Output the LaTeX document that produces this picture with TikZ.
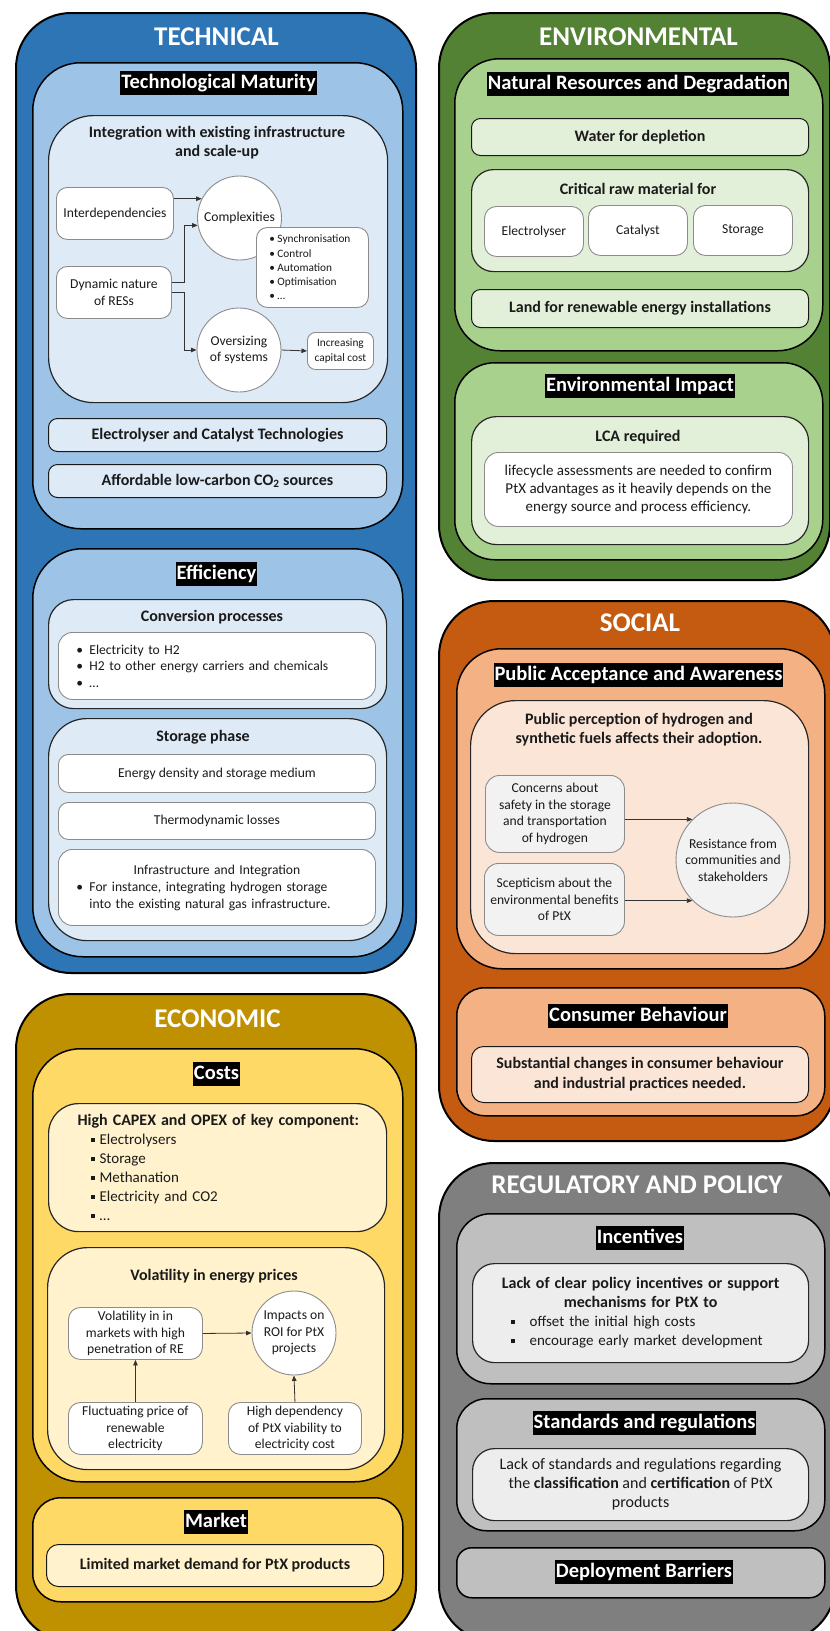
\documentclass[tikz,border=0pt]{standalone}
\usepackage{fontspec}
\setmainfont{Carlito}
\usetikzlibrary{arrows.meta}

% palette
\definecolor{tblue}{HTML}{2E75B6}
\definecolor{tpanel}{HTML}{9DC3E6}
\definecolor{tinner}{HTML}{DEEBF7}
\definecolor{egreen}{HTML}{548235}
\definecolor{epanel}{HTML}{A9D18E}
\definecolor{einner}{HTML}{E2F0D9}
\definecolor{sorange}{HTML}{C55A11}
\definecolor{spanel}{HTML}{F4B183}
\definecolor{sinner}{HTML}{FBE5D6}
\definecolor{sgray}{HTML}{F2F2F2}
\definecolor{ygold}{HTML}{BF9000}
\definecolor{ypanel}{HTML}{FFD966}
\definecolor{yinner}{HTML}{FFF2CC}
\definecolor{rgray}{HTML}{7F7F7F}
\definecolor{rpanel}{HTML}{BFBFBF}
\definecolor{rinner}{HTML}{EDEDED}
\definecolor{leafline}{HTML}{8C8C8C}
\definecolor{ink}{HTML}{1A1A1A}

% type sizes
\newcommand\regf{\fontsize{13.6}{16.5}\selectfont}
\newcommand\midf{\fontsize{15}{18}\selectfont}
\newcommand\bldf{\fontsize{16}{19}\selectfont\bfseries}
\newcommand\smf{\fontsize{11.3}{14.2}\selectfont}
\newcommand\bul[1]{\makebox[#1][l]{•}}
\newcommand\sqb[1]{\makebox[#1][l]{\rule[2.6pt]{4pt}{4pt}}}
% box from top-left (x1,y1) to bottom-right (x2,y2)
\newcommand\rbox[7]{\node[#2,anchor=north west,minimum width={(#5-#3)*1pt},minimum height={(#6-#4)*1pt}] (#1) at (#3,#4) {#7};}

\tikzset{
  obox/.style={draw=black,line width=2pt,rounded corners=55pt,inner sep=0pt},
  pbox/.style={draw=black,line width=1.5pt,rounded corners=#1,inner sep=0pt},
  pbox/.default=45pt,
  cbox/.style={draw=black!85,line width=1.2pt,rounded corners=#1,inner sep=0pt,text=ink},
  cbox/.default=25pt,
  bar/.style={draw=black!90,line width=1pt,rounded corners=9pt,font=\bldf,text=ink,align=center,inner sep=0pt},
  leaf/.style={draw=leafline,line width=0.9pt,fill=white,rounded corners=#1,font=\regf,text=ink,align=center,inner sep=1pt},
  leaf/.default=11pt,
  circ/.style={circle,draw=leafline,line width=0.9pt,fill=white,font=\regf,text=ink,align=center,inner sep=0pt},
  otitle/.style={text=white,font=\fontsize{27}{30}\selectfont\bfseries},
  ptitle/.style={fill=black,text=white,font=\fontsize{20.5}{24}\selectfont\bfseries,inner xsep=1pt,inner ysep=2pt,text height=15pt,text depth=4.5pt},
  stitle/.style={font=\bldf,text=ink,align=center},
  conn/.style={draw=black!80,line width=0.8pt,-{Triangle[length=5.5pt,width=4.5pt]}},
}

\begin{document}
\begin{tikzpicture}[x=1pt,y=-1pt]
\useasboundingbox (0,0) rectangle (830,1631);

% ================= TECHNICAL =================
\rbox{techO}{obox,fill=tblue}{15}{12}{415}{972}{}
\node[otitle] (techT) at (216.5,37) {TECHNICAL};
\rbox{tmP}{pbox=48pt,fill=tpanel}{32}{62}{402}{528}{}
\node[ptitle] (tmT) at (218.5,83) {Technological Maturity};
\rbox{intB}{cbox=45pt,fill=tinner}{48}{115}{387}{402}{}
\node[stitle] (intT) at (217,142.5) {Integration with existing infrastructure\\and scale-up};
\rbox{intd}{leaf}{56}{187}{173}{239}{Interdependencies}
\node[circ,minimum size=84pt] (cplx) at (239.5,218) {Complexities};
\rbox{clist}{leaf,font=\smf,align=left,text width=86pt}{256}{227}{368}{307}{\bul{8pt}Synchronisation\\\bul{8pt}Control\\\bul{8pt}Automation\\\bul{8pt}Optimisation\\\bul{8pt}…}
\rbox{dyn}{leaf}{56}{266}{171}{318}{Dynamic nature\\of RESs}
\node[circ,minimum size=84pt] (ovs) at (239,350) {Oversizing\\of systems};
\rbox{inc}{leaf=8pt,font=\smf}{307}{332}{373}{369}{Increasing\\capital cost}
\draw[conn] (intd.east |- cplx.153) -- (cplx.153);
\draw[conn] ([yshift=10pt]dyn.east) -- ++(12,0) |- (cplx.190);
\draw[conn] (dyn.east) -- ++(12,0) |- (ovs.west);
\draw[conn] (ovs.east) -- (inc.west);
\rbox{ect}{bar,fill=tinner}{48}{418}{386}{451}{Electrolyser and Catalyst Technologies}
\rbox{aff}{bar,fill=tinner}{48}{464}{386}{497}{Affordable low-carbon CO\textsubscript{2} sources}

\rbox{effP}{pbox=50pt,fill=tpanel}{32}{548}{402}{956}{}
\node[ptitle] (effT) at (216.5,574) {Efficiency};
\rbox{conv}{cbox=25pt,fill=tinner}{48}{599}{386}{708}{}
\node[stitle] (convT) at (212,617) {Conversion processes};
\rbox{convL}{leaf=14pt,align=left,text width=281pt}{58}{632}{375}{699}{\bul{13pt}Electricity to H2\\\bul{13pt}H2 to other energy carriers and chemicals\\\bul{13pt}…}
\rbox{stor}{cbox=38pt,fill=tinner}{48}{718}{386}{940}{}
\node[stitle] (storT) at (203,737) {Storage phase};
\rbox{ened}{leaf=10pt}{58}{754}{375}{792}{Energy density and storage medium}
\rbox{thermo}{leaf=10pt}{58}{802}{375}{839}{Thermodynamic losses}
\rbox{infra}{leaf=14pt,align=left,text width=281pt,font=\fontsize{13.6}{17}\selectfont}{58}{849}{375}{925}{\makebox[\hsize][c]{Infrastructure and Integration}\\\bul{13pt}For instance, integrating hydrogen storage\\\hspace*{13pt}into the existing natural gas infrastructure.}

% ================= ENVIRONMENTAL =================
\rbox{envO}{obox,fill=egreen}{438}{12}{829}{579}{}
\node[otitle] (envT) at (638.5,37) {ENVIRONMENTAL};
\rbox{nrP}{pbox=45pt,fill=epanel}{454}{58}{822}{350}{}
\node[ptitle] (nrT) at (638,84) {Natural Resources and Degradation};
\rbox{water}{bar,fill=einner}{471}{118}{808}{155}{Water for depletion}
\rbox{crit}{cbox=22pt,fill=einner}{471}{169}{808}{271}{}
\node[stitle] (critT) at (638,189) {Critical raw material for};
\rbox{elec}{leaf=12pt}{484}{206}{583}{256}{Electrolyser}
\rbox{cata}{leaf=12pt}{588}{205}{687}{255}{Catalyst}
\rbox{stg}{leaf=12pt}{693}{205}{792}{255}{Storage}
\rbox{land}{bar,fill=einner}{471}{289}{808}{327}{Land for renewable energy installations}
\rbox{eiP}{pbox=40pt,fill=epanel}{454}{362}{822}{559}{}
\node[ptitle] (eiT) at (640,386) {Environmental Impact};
\rbox{lca}{cbox=25pt,fill=einner}{471}{416}{808}{544}{}
\node[stitle] (lcaT) at (638,437) {LCA required};
\rbox{lcaX}{leaf=14pt,font=\midf}{484}{452}{792}{526}{lifecycle assessments are needed to confirm\\PtX advantages as it heavily depends on the\\energy source and process efficiency.}

% ================= SOCIAL =================
\rbox{socO}{obox,fill=sorange}{438}{600}{834}{1140}{}
\node[otitle] (socT) at (640,623) {SOCIAL};
\rbox{paP}{pbox=45pt,fill=spanel}{456}{648}{824}{968}{}
\node[ptitle] (paT) at (638.5,675) {Public Acceptance and Awareness};
\rbox{ppB}{cbox=45pt,fill=sinner}{470}{700}{808}{953}{}
\node[stitle] (ppT) at (639,729.5) {Public perception of hydrogen and\\synthetic fuels affects their adoption.};
\rbox{conc}{leaf=14pt,fill=sgray}{485}{775}{624}{852}{Concerns about\\safety in the storage\\and transportation\\of hydrogen}
\rbox{scep}{leaf=14pt,fill=sgray}{484}{863}{624}{935}{Scepticism about the\\environmental benefits\\of PtX}
\node[circ,fill=sgray,minimum size=114pt] (res) at (733,860) {Resistance from\\communities and\\stakeholders};
\draw[conn] (conc.east |- res.135) -- (res.135);
\draw[conn] (scep.east |- res.225) -- (res.225);
\rbox{cbP}{pbox=28pt,fill=spanel}{456}{987}{824}{1115}{}
\node[ptitle] (cbT) at (638,1016) {Consumer Behaviour};
\rbox{subs}{bar,fill=sinner,rounded corners=12pt,font=\fontsize{16}{20}\selectfont\bfseries}{471}{1046}{808}{1102}{Substantial changes in consumer behaviour\\and industrial practices needed.}

% ================= ECONOMIC =================
\rbox{ecoO}{obox,fill=ygold}{15}{993}{415}{1640}{}
\node[otitle] (ecoT) at (217.5,1019) {ECONOMIC};
\rbox{costP}{pbox=48pt,fill=ypanel}{32}{1048}{402}{1481}{}
\node[ptitle] (costT) at (216.5,1074) {Costs};
\rbox{capex}{cbox=30pt,fill=yinner,align=left,text width=280pt,font=\fontsize{15}{19}\selectfont}{48}{1103}{386}{1231}{\mbox{\bldf High CAPEX and OPEX of key component:}\\\hspace*{13pt}\sqb{9pt}Electrolysers\\\hspace*{13pt}\sqb{9pt}Storage\\\hspace*{13pt}\sqb{9pt}Methanation\\\hspace*{13pt}\sqb{9pt}Electricity and CO2\\\hspace*{13pt}\sqb{9pt}…}
\rbox{vol}{cbox=40pt,fill=yinner}{47}{1247}{384}{1469}{}
\node[stitle] (volT) at (214,1276) {Volatility in energy prices};
\rbox{vim}{leaf=12pt}{68}{1307}{202}{1359}{Volatility in in\\markets with high\\penetration of RE}
\node[circ,minimum size=84pt] (roi) at (294,1333) {Impacts on\\ROI for PtX\\projects};
\rbox{fluct}{leaf=12pt}{68}{1402}{202}{1454}{Fluctuating price of\\renewable\\electricity}
\rbox{hdep}{leaf=12pt}{228}{1402}{361}{1454}{High dependency\\of PtX viability to\\electricity cost}
\draw[conn] (vim.east) -- (roi.west);
\draw[conn] (fluct.north) -- (vim.south);
\draw[conn] (hdep.north) -- (roi.south);
\rbox{mkP}{pbox=28pt,fill=ypanel}{32}{1497}{402}{1601}{}
\node[ptitle] (mkT) at (216,1522) {Market};
\rbox{lim}{bar,fill=yinner,rounded corners=12pt}{46}{1544}{383}{1586}{Limited market demand for PtX products}

% ================= REGULATORY AND POLICY =================
\rbox{regO}{obox,fill=rgray}{438}{1162}{834}{1640}{}
\node[otitle] (regT) at (637,1185) {REGULATORY AND POLICY};
\rbox{incP}{pbox=34pt,fill=rpanel}{456}{1213}{824}{1383}{}
\node[ptitle] (incT) at (640,1238) {Incentives};
\rbox{lack}{cbox=22pt,fill=rinner,align=left,text width=260pt,font=\fontsize{15}{19}\selectfont}{472}{1263}{808}{1362}{\makebox[\hsize][c]{\bldf Lack of clear policy incentives or support}\\\makebox[\hsize][c]{\bldf mechanisms for PtX to}\\\sqb{19pt}offset the initial high costs\\\sqb{19pt}encourage early market development}
\rbox{stP}{pbox=30pt,fill=rpanel}{456}{1398}{824}{1530}{}
\node[ptitle] (stT) at (644.5,1423) {Standards and regulations};
\rbox{lstd}{cbox=22pt,fill=rinner,align=center,font=\fontsize{16}{19}\selectfont}{472}{1448}{808}{1520}{Lack of standards and regulations regarding\\the \textbf{classification} and \textbf{certification} of PtX\\products}
\rbox{depP}{pbox=15pt,fill=rpanel}{456}{1547}{824}{1597}{}
\node[ptitle] (depT) at (644,1572) {Deployment Barriers};
\end{tikzpicture}
\end{document}
